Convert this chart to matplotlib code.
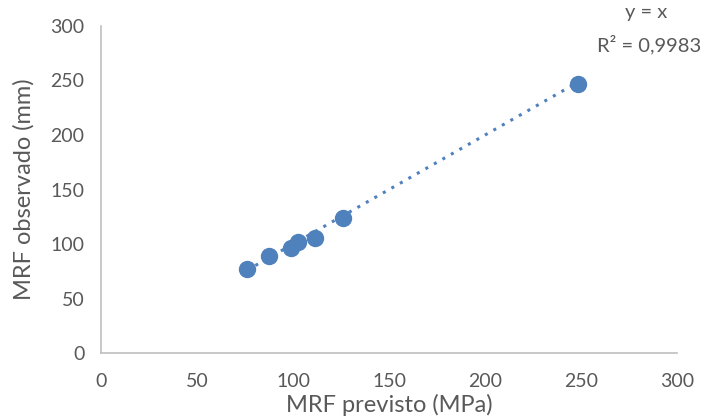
import matplotlib
matplotlib.use("Agg")
import matplotlib.pyplot as plt
import numpy as np

# points
mrf_previsto = [76, 87.5, 99, 102.5, 111.5, 126, 248.5]
mrf_observado = [77, 89, 96, 102, 105.5, 124, 247]
trend_x = [min(mrf_previsto), max(mrf_previsto)]  # trendline y = x

GRAY = "#595959"
BLUE = "#4f81bd"

plt.rcParams["font.family"] = ["Lato", "DejaVu Sans"]

fig = plt.figure(figsize=(7.06, 4.18), dpi=100)
ax = fig.add_axes([0.143, 0.155, 0.816, 0.783])

ax.plot(trend_x, trend_x, linestyle=(0, (1, 2.2)), color=BLUE, linewidth=2.2, zorder=2)
ax.plot(mrf_previsto, mrf_observado, "o", color=BLUE, markersize=11.5, zorder=3)

ax.set_xlim(0, 300)
ax.set_ylim(0, 300)
ax.set_xticks(np.arange(0, 301, 50))
ax.set_yticks(np.arange(0, 301, 50))
ax.tick_params(length=0, labelsize=14, labelcolor=GRAY, pad=14)
ax.tick_params(axis="y", pad=12)

for s in ["top", "right"]:
    ax.spines[s].set_visible(False)
for s in ["left", "bottom"]:
    ax.spines[s].set_color("#bfbfbf")
    ax.spines[s].set_linewidth(1.2)

ax.set_xlabel("MRF previsto (MPa)", fontsize=17, color=GRAY, labelpad=3)
ax.set_ylabel("MRF observado (mm)", fontsize=17, color=GRAY, labelpad=11)

fig.text(0.915, 0.97, "y = x", fontsize=14.5, color=GRAY, ha="center", va="center")
fig.text(0.993, 0.893, "R² = 0,9983", fontsize=14.5, color=GRAY, ha="right", va="center")

fig.savefig("out.png", dpi=100)
